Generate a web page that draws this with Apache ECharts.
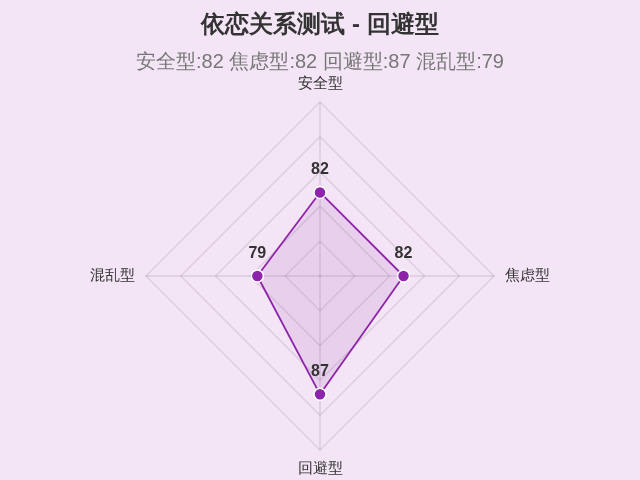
<!DOCTYPE html>
<html>
<head>
<meta charset="utf-8">
<script src="https://cdn.jsdelivr.net/npm/echarts@6/dist/echarts.min.js"></script>
<style>
html, body { margin: 0; padding: 0; background: #f3e5f5; }
#main { width: 640px; height: 480px; }
</style>
</head>
<body>
<div id="main"></div>
<script>
// 数据
var dimensions = ['安全型', '焦虑型', '回避型', '混乱型'];
var scores = [82, 82, 87, 79];
var axisMin = 70;
var axisMax = 95;
// 雷达图逆时针排列, 这里换成顺时针顺序
var radarOrder = [0, 3, 2, 1];

var subtext = dimensions.map(function (d, i) { return d + ':' + scores[i]; }).join(' ');

var myChart = echarts.init(document.getElementById('main'));
var option = {
    backgroundColor: '#f3e5f5',
    title: {
        text: '依恋关系测试 - 回避型',
        subtext: subtext,
        left: 'center',
        top: 8,
        itemGap: 15,
        textStyle: {
            fontSize: 24,
            fontWeight: 'bold',
            color: '#333'
        },
        subtextStyle: {
            fontSize: 20,
            color: '#777'
        }
    },
    radar: {
        center: ['50%', 276],
        radius: 174,
        shape: 'polygon',
        splitNumber: 5,
        nameGap: 11,
        indicator: radarOrder.map(function (i) {
            return { name: dimensions[i], min: axisMin, max: axisMax };
        }),
        axisName: {
            color: '#333',
            fontSize: 15
        },
        splitLine: {
            lineStyle: { color: 'rgba(120,100,130,0.18)', width: 1.5 }
        },
        axisLine: {
            lineStyle: { color: 'rgba(120,100,130,0.2)', width: 1.5 }
        },
        splitArea: { show: false }
    },
    series: [{
        type: 'radar',
        symbol: 'circle',
        symbolSize: 12,
        lineStyle: { color: '#8e24aa', width: 1.8 },
        itemStyle: { color: '#8e24aa', borderColor: '#fff', borderWidth: 1.5 },
        areaStyle: { color: 'rgba(142,36,170,0.15)' },
        label: {
            show: true,
            position: 'top',
            distance: 8,
            fontSize: 16,
            fontWeight: 'bold',
            color: '#333'
        },
        data: [{
            value: radarOrder.map(function (i) { return scores[i]; }),
            name: '回避型'
        }]
    }]
};
myChart.setOption(option);
</script>
</body>
</html>
